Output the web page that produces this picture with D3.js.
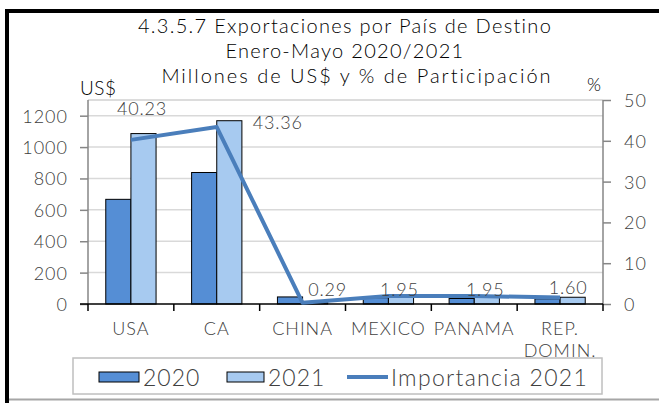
<!DOCTYPE html>
<html>
<head>
<meta charset="utf-8">
<script src="https://cdn.jsdelivr.net/npm/d3@7"></script>
<style>
  body { margin: 0; background: #fff; }
  svg text { font-family: Lato, "Open Sans", sans-serif; font-weight: 300; fill: #404040; }
</style>
</head>
<body>
<script>
// chart data
var categories = ["USA", "CA", "CHINA", "MEXICO", "PANAMA", "REP. DOMIN."];
var values2020 = [667, 838, 45, 40, 35, 33];
var values2021 = [1086, 1168, 8, 50, 50, 43];
var importancia2021 = [40.23, 43.36, 0.29, 1.95, 1.95, 1.60];
var leftTicks = [0, 200, 400, 600, 800, 1000, 1200];
var rightTicks = [0, 10, 20, 30, 40, 50];
var seriesNames = ["2020", "2021"];
var titleLines = ["4.3.5.7 Exportaciones por País de Destino", "Enero-Mayo 2020/2021", "Millones de US$ y % de Participación"];

// label nudges (px) relative to each line point
var labelOffsets = [[11, -25], [61, 2], [25, -7], [11, 0], [11, 0], [8, -3]];

var W = 659, H = 403;
var pLeft = 88, pRight = 603, pTop = 100, pBottom = 304;
var col2020 = "#558ed5", col2021 = "#a7caf0", lineCol = "#4a7ebb";

var svg = d3.select("body").append("svg").attr("width", W).attr("height", H);

// outer frame
svg.append("line").attr("x1", 5).attr("x2", W).attr("y1", 11).attr("y2", 11).attr("stroke", "#000").attr("stroke-width", 4);
svg.append("line").attr("x1", 7).attr("x2", 7).attr("y1", 9).attr("y2", H).attr("stroke", "#000").attr("stroke-width", 4);
svg.append("line").attr("x1", 9).attr("x2", W).attr("y1", 399.5).attr("y2", 399.5).attr("stroke", "#a6a6a6").attr("stroke-width", 2);

// titles
var titleX = [345, 345, 357];
var titleY = [33, 58, 83];
var titleSpacing = [1.3, 1.3, 2];
titleLines.forEach(function(t, i){
  svg.append("text").attr("x", titleX[i]).attr("y", titleY[i]).attr("text-anchor", "middle")
    .style("font-size", "20px").style("fill", "#000").style("letter-spacing", titleSpacing[i] + "px").text(t);
});
svg.append("text").attr("x", 80).attr("y", 95).style("font-size", "19px").style("fill", "#000").style("letter-spacing", "0.5px").text("US$");
svg.append("text").attr("x", 587).attr("y", 91).style("font-size", "18px").style("fill", "#000").text("%");

var x0 = d3.scaleBand().domain(categories).range([pLeft, pRight]).paddingInner(0.414).paddingOuter(0.207);
var x1 = d3.scaleBand().domain(seriesNames).range([0, x0.bandwidth()]);
var yL = d3.scaleLinear().domain([0, 1300]).range([pBottom, pTop]);
var yR = d3.scaleLinear().domain([0, 50]).range([pBottom, pTop]);

// gridlines
svg.append("g").selectAll("line").data(leftTicks.slice(1)).enter().append("line")
  .attr("x1", pLeft).attr("x2", pRight).attr("y1", function(d){ return yL(d); }).attr("y2", function(d){ return yL(d); })
  .attr("stroke", "#d9d9d9").attr("stroke-width", 1.5);
svg.append("line").attr("x1", pLeft).attr("x2", pRight).attr("y1", pTop).attr("y2", pTop).attr("stroke", "#d0d0d0").attr("stroke-width", 1.5);

// bars
var rows = categories.map(function(c, i){ return {cat: c, vals: [values2020[i], values2021[i]]}; });
var groups = svg.append("g").selectAll("g").data(rows).enter().append("g")
  .attr("transform", function(d){ return "translate(" + x0(d.cat) + ",0)"; });
groups.selectAll("rect").data(function(d){ return d.vals.map(function(v, j){ return {s: seriesNames[j], v: v}; }); })
  .enter().append("rect")
  .attr("x", function(d){ return x1(d.s); })
  .attr("width", x1.bandwidth())
  .attr("y", function(d){ return yL(d.v); })
  .attr("height", function(d){ return pBottom - yL(d.v); })
  .attr("fill", function(d){ return d.s === "2020" ? col2020 : col2021; })
  .attr("stroke", "#000").attr("stroke-width", 1);

// left axis
var axL = svg.append("g").attr("transform", "translate(" + pLeft + ",0)")
  .call(d3.axisLeft(yL).tickValues(leftTicks).tickFormat(d3.format("d")).tickSize(8).tickPadding(12).tickSizeOuter(0));
axL.select(".domain").attr("stroke", "#868686").attr("stroke-width", 1.5).attr("d", "M0," + pBottom + "V" + pTop);
axL.selectAll(".tick line").attr("stroke", "#868686").attr("stroke-width", 1.5);
axL.selectAll(".tick text").style("font-size", "18px").style("letter-spacing", "1px").attr("dy", "0.36em");

// right axis
var axR = svg.append("g").attr("transform", "translate(" + pRight + ",0)")
  .call(d3.axisRight(yR).tickValues(rightTicks).tickSize(8).tickPadding(13).tickSizeOuter(0));
axR.select(".domain").attr("stroke", "#868686").attr("stroke-width", 1.5).attr("d", "M0," + pBottom + "V" + pTop);
axR.selectAll(".tick line").attr("stroke", "#868686").attr("stroke-width", 1.5);
axR.selectAll(".tick text").style("font-size", "18px").style("letter-spacing", "1px").attr("dy", "0.36em");

// bottom axis with ticks on band boundaries
var step = x0.step();
var bounds = d3.range(categories.length + 1).map(function(i){ return pLeft + i * step; });
svg.append("line").attr("x1", pLeft - 8).attr("x2", pRight).attr("y1", pBottom).attr("y2", pBottom).attr("stroke", "#000").attr("stroke-width", 1.5);
svg.append("g").selectAll("line").data(bounds).enter().append("line")
  .attr("x1", function(d){ return d; }).attr("x2", function(d){ return d; })
  .attr("y1", pBottom).attr("y2", pBottom + 7).attr("stroke", "#000").attr("stroke-width", 1.5);
var catText = svg.append("g").selectAll("text").data(categories).enter().append("text")
  .attr("x", function(d){ return x0(d) + x0.bandwidth() / 2; })
  .attr("y", 335).attr("text-anchor", "middle").style("font-size", "18px").style("letter-spacing", "1px");
catText.each(function(d){
  var t = d3.select(this);
  d.split(" ").forEach(function(w, k){
    t.append("tspan").attr("x", x0(d) + x0.bandwidth() / 2).attr("dy", k ? 22 : 0).text(w);
  });
});

// line series
var pts = categories.map(function(c, i){ return [x0(c) + x0.bandwidth() / 2, yR(importancia2021[i])]; });
svg.append("path").datum(pts).attr("d", d3.line()).attr("fill", "none")
  .attr("stroke", lineCol).attr("stroke-width", 4).attr("stroke-linejoin", "round");

svg.append("g").selectAll("text").data(importancia2021).enter().append("text")
  .attr("x", function(d, i){ return pts[i][0] + labelOffsets[i][0]; })
  .attr("y", function(d, i){ return pts[i][1] + labelOffsets[i][1]; })
  .attr("text-anchor", "middle").style("font-size", "18px").style("letter-spacing", "0.8px")
  .text(function(d){ return d.toFixed(2); });

// legend
var lg = svg.append("g");
lg.append("rect").attr("x", 73).attr("y", 358).attr("width", 529).attr("height", 36)
  .attr("fill", "#fff").attr("stroke", "#bfbfbf").attr("stroke-width", 1.5);
lg.append("rect").attr("x", 99).attr("y", 372).attr("width", 40).attr("height", 10).attr("fill", col2020).attr("stroke", "#000");
lg.append("text").attr("x", 143).attr("y", 386).style("font-size", "23px").style("letter-spacing", "1px").text(seriesNames[0]);
lg.append("rect").attr("x", 227).attr("y", 372).attr("width", 37).attr("height", 10).attr("fill", col2021).attr("stroke", "#000");
lg.append("text").attr("x", 268).attr("y", 386).style("font-size", "23px").style("letter-spacing", "1px").text(seriesNames[1]);
lg.append("line").attr("x1", 347).attr("x2", 388).attr("y1", 377).attr("y2", 377).attr("stroke", lineCol).attr("stroke-width", 4);
lg.append("text").attr("x", 391).attr("y", 386).style("font-size", "23px").style("letter-spacing", "1.3px").text("Importancia 2021");
</script>
</body>
</html>
